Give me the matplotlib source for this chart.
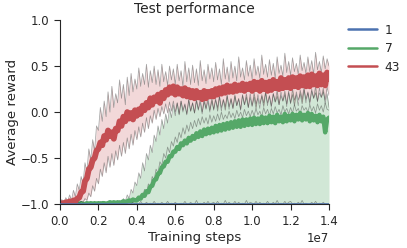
import matplotlib
matplotlib.use("Agg")
import matplotlib.pyplot as plt
import seaborn as sns
import numpy as np

# training steps, one reading every 0.01e7 (141 readings, 0 .. 1.4e7)
steps = np.arange(141) * 0.01e7

labels = ["1", "7", "43"]
colors = ["#4C72B0", "#55A868", "#C44E52"]

# ---------------- condition "1" ----------------
blue_mean = [
    -1.00, -1.00, -1.00, -1.00, -1.00, -1.00, -1.00, -1.00, -1.00, -1.00,
    -1.00, -1.00, -1.00, -1.00, -1.00, -1.00, -1.00, -1.00, -1.00, -1.00,
    -1.00, -1.00, -1.00, -1.00, -1.00, -1.00, -1.00, -1.00, -1.00, -1.00,
    -1.00, -1.00, -1.00, -1.00, -1.00, -1.00, -1.00, -1.00, -1.00, -1.00,
    -1.00, -1.00, -1.00, -1.00, -1.00, -1.00, -1.00, -1.00, -1.00, -1.00,
    -1.00, -1.00, -1.00, -1.00, -1.00, -1.00, -1.00, -1.00, -1.00, -1.00,
    -1.00, -1.00, -1.00, -1.00, -1.00, -1.00, -1.00, -1.00, -1.00, -1.00,
    -1.00, -1.00, -1.00, -1.00, -1.00, -1.00, -1.00, -1.00, -1.00, -1.00,
    -1.00, -1.00, -1.00, -1.00, -1.00, -1.00, -1.00, -1.00, -1.00, -1.00,
    -1.00, -1.00, -1.00, -1.00, -1.00, -1.00, -1.00, -1.00, -1.00, -1.00,
    -1.00, -1.00, -1.00, -1.00, -1.00, -1.00, -1.00, -1.00, -1.00, -1.00,
    -1.00, -1.00, -1.00, -1.00, -1.00, -1.00, -1.00, -1.00, -1.00, -1.00,
    -1.00, -1.00, -1.00, -1.00, -1.00, -1.00, -1.00, -1.00, -1.00, -1.00,
    -1.00, -1.00, -1.00, -1.00, -1.00, -1.00, -1.00, -1.00, -1.00, -1.00,
    -1.00]
blue_trace = [
    -1.00, -1.00, -1.00, -1.00, -1.00, -1.00, -1.00, -1.00, -1.00, -1.00,
    -1.00, -1.00, -1.00, -1.00, -1.00, -1.00, -1.00, -1.00, -1.00, -1.00,
    -1.00, -1.00, -1.00, -1.00, -1.00, -1.00, -1.00, -1.00, -1.00, -1.00,
    -1.00, -1.00, -1.00, -1.00, -1.00, -1.00, -1.00, -1.00, -0.98, -1.00,
    -0.99, -1.00, -0.97, -1.00, -1.00, -0.98, -1.00, -0.99, -1.00, -0.97,
    -1.00, -0.99, -1.00, -0.98, -1.00, -1.00, -0.97, -1.00, -0.99, -1.00,
    -0.98, -1.00, -1.00, -0.99, -1.00, -0.97, -1.00, -1.00, -0.98, -1.00,
    -1.00, -0.96, -1.00, -0.99, -1.00, -0.98, -1.00, -0.97, -1.00, -0.99,
    -0.98, -1.00, -0.97, -1.00, -0.99, -1.00, -0.96, -1.00, -0.98, -1.00,
    -1.00, -0.97, -1.00, -0.98, -1.00, -0.99, -1.00, -0.96, -1.00, -0.98,
    -0.99, -1.00, -0.97, -1.00, -0.98, -1.00, -0.99, -1.00, -0.97, -1.00,
    -1.00, -0.98, -1.00, -0.96, -1.00, -0.99, -1.00, -0.97, -1.00, -0.98,
    -0.97, -1.00, -0.99, -1.00, -0.98, -1.00, -0.96, -1.00, -0.99, -1.00,
    -1.00, -0.98, -1.00, -0.97, -1.00, -0.99, -1.00, -0.98, -1.00, -1.00,
    -1.00]

# ---------------- condition "7" ----------------
green_mean = [
    -1.00, -1.00, -1.00, -0.99, -1.00, -1.00, -0.99, -1.00, -1.00, -0.99,
    -1.00, -0.99, -1.00, -1.00, -0.99, -1.00, -0.99, -1.00, -0.99, -1.00,
    -0.99, -1.00, -0.99, -0.99, -1.00, -0.99, -0.98, -0.99, -0.98, -0.99,
    -0.98, -0.99, -0.98, -0.97, -0.98, -0.97, -0.96, -0.97, -0.95, -0.96,
    -0.96, -0.93, -0.94, -0.90, -0.91, -0.86, -0.87, -0.81, -0.80, -0.74,
    -0.73, -0.67, -0.66, -0.60, -0.59, -0.54, -0.54, -0.48, -0.48, -0.43,
    -0.43, -0.38, -0.40, -0.34, -0.36, -0.31, -0.34, -0.28, -0.31, -0.26,
    -0.29, -0.23, -0.27, -0.21, -0.26, -0.19, -0.24, -0.18, -0.23, -0.17,
    -0.22, -0.15, -0.21, -0.14, -0.20, -0.13, -0.19, -0.12, -0.18, -0.11,
    -0.17, -0.10, -0.16, -0.09, -0.16, -0.08, -0.15, -0.08, -0.14, -0.07,
    -0.14, -0.06, -0.13, -0.07, -0.13, -0.05, -0.12, -0.06, -0.12, -0.04,
    -0.11, -0.05, -0.12, -0.03, -0.10, -0.05, -0.11, -0.02, -0.10, -0.04,
    -0.09, -0.02, -0.10, -0.03, -0.08, -0.01, -0.09, -0.03, -0.08, -0.01,
    -0.10, -0.02, -0.09, -0.04, -0.11, -0.03, -0.10, -0.05, -0.22, -0.08,
    -0.06]
green_upper = [
    -1.00, -1.00, -1.00, -0.99, -1.00, -0.98, -1.00, -0.99, -1.00, -0.98,
    -1.00, -0.97, -0.99, -1.00, -0.98, -1.00, -0.97, -0.99, -1.00, -0.98,
    -0.99, -0.97, -1.00, -0.98, -0.99, -0.97, -1.00, -0.98, -0.99, -0.97,
    -0.98, -0.96, -0.99, -0.94, -0.97, -0.90, -0.94, -0.84, -0.88, -0.76,
    -0.80, -0.66, -0.72, -0.55, -0.64, -0.45, -0.52, -0.36, -0.44, -0.25,
    -0.32, -0.15, -0.25, -0.08, -0.18, -0.02, -0.12, 0.04, -0.06, 0.08,
    -0.04, 0.10, -0.02, 0.12, 0.00, 0.08, -0.03, 0.13, 0.01, 0.10,
    -0.01, 0.14, 0.02, 0.11, -0.02, 0.15, 0.03, 0.12, 0.00, 0.16,
    0.02, 0.13, 0.05, 0.17, 0.01, 0.14, 0.06, 0.18, 0.03, 0.15,
    0.04, 0.19, 0.07, 0.14, 0.02, 0.18, 0.08, 0.20, 0.05, 0.16,
    0.06, 0.21, 0.09, 0.15, 0.04, 0.19, 0.10, 0.22, 0.07, 0.17,
    0.05, 0.20, 0.11, 0.24, 0.08, 0.18, 0.12, 0.23, 0.06, 0.21,
    0.09, 0.25, 0.13, 0.19, 0.07, 0.24, 0.14, 0.27, 0.10, 0.22,
    0.08, 0.23, 0.15, 0.28, 0.11, 0.21, 0.16, 0.26, 0.09, 0.20,
    0.05]
green_mid = [
    -1.00, -1.00, -1.00, -1.00, -1.00, -0.99, -1.00, -1.00, -0.98, -1.00,
    -1.00, -0.99, -1.00, -1.00, -0.98, -1.00, -1.00, -0.99, -1.00, -1.00,
    -0.98, -1.00, -1.00, -0.99, -1.00, -0.98, -1.00, -1.00, -0.99, -1.00,
    -1.00, -0.98, -1.00, -0.99, -0.98, -0.99, -0.97, -0.98, -0.95, -0.96,
    -0.93, -0.95, -0.90, -0.92, -0.84, -0.88, -0.78, -0.82, -0.70, -0.74,
    -0.62, -0.66, -0.54, -0.58, -0.45, -0.50, -0.38, -0.44, -0.32, -0.37,
    -0.27, -0.33, -0.22, -0.28, -0.17, -0.24, -0.14, -0.21, -0.11, -0.18,
    -0.09, -0.16, -0.07, -0.14, -0.05, -0.12, -0.06, -0.13, -0.03, -0.11,
    -0.04, -0.10, -0.02, -0.09, 0.00, -0.08, -0.03, -0.07, 0.01, -0.06,
    -0.01, -0.07, 0.02, -0.05, 0.00, -0.06, 0.03, -0.04, 0.01, -0.05,
    0.02, -0.04, 0.04, -0.03, 0.01, -0.05, 0.05, -0.02, 0.03, -0.04,
    0.04, -0.02, 0.06, -0.01, 0.03, -0.03, 0.07, 0.00, 0.04, -0.02,
    0.05, -0.01, 0.08, 0.01, 0.04, -0.02, 0.07, 0.02, 0.05, 0.00,
    0.08, 0.01, 0.06, -0.01, 0.09, 0.02, 0.07, 0.00, 0.10, 0.03,
    0.02]
green_lower = [
    -1.00, -1.00, -0.98, -1.00, -1.00, -0.99, -1.00, -0.98, -1.00, -1.00,
    -0.99, -1.00, -0.98, -1.00, -1.00, -0.98, -1.00, -0.99, -1.00, -0.98,
    -1.00, -0.99, -1.00, -0.98, -1.00, -1.00, -0.98, -1.00, -0.99, -1.00,
    -0.98, -1.00, -1.00, -0.99, -1.00, -1.00, -1.00, -1.00, -1.00, -1.00,
    -1.00, -1.00, -1.00, -1.00, -1.00, -1.00, -1.00, -1.00, -1.00, -1.00,
    -1.00, -1.00, -1.00, -1.00, -1.00, -1.00, -1.00, -1.00, -1.00, -1.00,
    -1.00, -1.00, -1.00, -1.00, -1.00, -1.00, -1.00, -1.00, -1.00, -1.00,
    -1.00, -1.00, -1.00, -1.00, -1.00, -1.00, -1.00, -1.00, -1.00, -1.00,
    -1.00, -1.00, -1.00, -1.00, -1.00, -1.00, -1.00, -1.00, -1.00, -1.00,
    -1.00, -1.00, -1.00, -1.00, -1.00, -1.00, -1.00, -1.00, -1.00, -1.00,
    -1.00, -1.00, -1.00, -1.00, -1.00, -1.00, -1.00, -1.00, -1.00, -1.00,
    -1.00, -1.00, -1.00, -1.00, -1.00, -1.00, -1.00, -1.00, -1.00, -1.00,
    -1.00, -1.00, -1.00, -1.00, -1.00, -1.00, -1.00, -1.00, -1.00, -1.00,
    -1.00, -1.00, -1.00, -1.00, -1.00, -1.00, -1.00, -1.00, -1.00, -1.00,
    -1.00]

# ---------------- condition "43" ----------------
red_mean = [
    -1.00, -0.99, -1.00, -0.98, -0.99, -0.97, -0.99, -0.96, -0.97, -0.94,
    -0.93, -0.87, -0.86, -0.75, -0.72, -0.62, -0.60, -0.52, -0.50, -0.42,
    -0.40, -0.33, -0.36, -0.26, -0.30, -0.20, -0.26, -0.22, -0.29, -0.18,
    -0.20, -0.10, -0.15, -0.05, -0.10, 0.00, -0.07, -0.01, -0.08, 0.02,
    -0.04, 0.03, -0.02, 0.07, 0.02, 0.10, 0.05, 0.15, 0.08, 0.16,
    0.12, 0.19, 0.10, 0.21, 0.15, 0.24, 0.19, 0.27, 0.21, 0.28,
    0.19, 0.27, 0.20, 0.25, 0.18, 0.26, 0.17, 0.24, 0.16, 0.23,
    0.15, 0.23, 0.16, 0.21, 0.14, 0.23, 0.15, 0.22, 0.17, 0.23,
    0.17, 0.25, 0.19, 0.26, 0.20, 0.27, 0.21, 0.29, 0.22, 0.28,
    0.22, 0.30, 0.23, 0.29, 0.24, 0.31, 0.23, 0.30, 0.25, 0.31,
    0.23, 0.33, 0.25, 0.32, 0.23, 0.34, 0.25, 0.32, 0.23, 0.33,
    0.24, 0.35, 0.26, 0.33, 0.25, 0.37, 0.26, 0.35, 0.27, 0.37,
    0.26, 0.38, 0.28, 0.37, 0.27, 0.39, 0.29, 0.38, 0.28, 0.40,
    0.28, 0.41, 0.30, 0.39, 0.29, 0.42, 0.30, 0.40, 0.29, 0.43,
    0.36]
red_upper = [
    -0.98, -0.95, -1.00, -0.93, -0.97, -0.90, -0.96, -0.85, -0.92, -0.78,
    -0.85, -0.70, -0.78, -0.55, -0.65, -0.40, -0.52, -0.30, -0.42, -0.15,
    -0.20, 0.05, -0.10, 0.12, -0.05, 0.22, 0.00, 0.28, 0.05, 0.20,
    0.10, 0.35, 0.15, 0.30, 0.08, 0.38, 0.18, 0.42, 0.22, 0.36,
    0.25, 0.48, 0.28, 0.42, 0.30, 0.52, 0.27, 0.45, 0.32, 0.50,
    0.30, 0.46, 0.28, 0.52, 0.33, 0.44, 0.29, 0.50, 0.35, 0.47,
    0.30, 0.52, 0.34, 0.45, 0.28, 0.55, 0.33, 0.48, 0.30, 0.51,
    0.32, 0.47, 0.29, 0.56, 0.34, 0.46, 0.31, 0.52, 0.36, 0.48,
    0.33, 0.54, 0.35, 0.47, 0.30, 0.58, 0.36, 0.49, 0.33, 0.55,
    0.37, 0.50, 0.34, 0.60, 0.38, 0.48, 0.35, 0.56, 0.39, 0.51,
    0.36, 0.58, 0.40, 0.50, 0.37, 0.62, 0.41, 0.52, 0.38, 0.57,
    0.40, 0.53, 0.37, 0.60, 0.42, 0.51, 0.39, 0.64, 0.43, 0.55,
    0.40, 0.59, 0.44, 0.53, 0.41, 0.62, 0.45, 0.54, 0.42, 0.60,
    0.44, 0.56, 0.41, 0.65, 0.46, 0.55, 0.43, 0.61, 0.47, 0.58,
    0.50]
red_lower = [
    -1.00, -1.00, -1.00, -1.00, -0.99, -1.00, -1.00, -0.99, -1.00, -0.98,
    -0.99, -0.97, -0.98, -0.94, -0.96, -0.88, -0.92, -0.80, -0.86, -0.72,
    -0.78, -0.62, -0.70, -0.55, -0.66, -0.48, -0.60, -0.45, -0.58, -0.42,
    -0.52, -0.36, -0.48, -0.33, -0.45, -0.28, -0.40, -0.24, -0.36, -0.20,
    -0.30, -0.16, -0.27, -0.12, -0.22, -0.06, -0.18, -0.04, -0.12, 0.02,
    -0.08, 0.04, -0.05, 0.06, -0.02, 0.09, -0.01, 0.11, 0.01, 0.12,
    0.00, 0.10, -0.03, 0.12, 0.02, 0.09, -0.02, 0.14, 0.01, 0.10,
    -0.01, 0.12, 0.03, 0.15, 0.00, 0.11, 0.04, 0.16, 0.02, 0.12,
    0.03, 0.15, 0.01, 0.17, 0.05, 0.13, 0.02, 0.18, 0.06, 0.14,
    0.04, 0.17, 0.07, 0.15, 0.03, 0.19, 0.08, 0.16, 0.05, 0.20,
    0.07, 0.16, 0.04, 0.19, 0.09, 0.17, 0.06, 0.21, 0.10, 0.18,
    0.07, 0.20, 0.11, 0.17, 0.08, 0.22, 0.12, 0.19, 0.09, 0.23,
    0.10, 0.19, 0.07, 0.22, 0.13, 0.20, 0.09, 0.24, 0.14, 0.21,
    0.11, 0.25, 0.15, 0.21, 0.12, 0.26, 0.16, 0.22, 0.13, 0.27,
    0.18]

sns.set_style("ticks")
plt.rcParams['font.family'] = ['DejaVu Sans']
plt.rcParams['text.color'] = '.15'
plt.rcParams['axes.labelcolor'] = '.15'
plt.rcParams['axes.edgecolor'] = '.15'
plt.rcParams['xtick.color'] = '.15'
plt.rcParams['ytick.color'] = '.15'

fig = plt.figure(figsize=(4.07, 2.48), dpi=100)
ax = fig.add_axes([0.1474, 0.177, 0.661, 0.742])

trace_kw = dict(color="#2a2a2a", alpha=0.42, lw=0.55)

# condition 1 (kept on top at the floor, like the reference)
ax.plot(steps, blue_trace, zorder=4, **trace_kw)
ax.plot(steps, blue_mean, color=colors[0], lw=1.8, label=labels[0], zorder=5)

# condition 7
ax.fill_between(steps, green_lower, green_upper, color=colors[1], alpha=0.27, lw=0)
for tr in (green_upper, green_mid, green_lower):
    ax.plot(steps, tr, **trace_kw)
ax.plot(steps, green_mean, color=colors[1], lw=3.2, label=labels[1])

# condition 43
ax.fill_between(steps, red_lower, red_upper, color=colors[2], alpha=0.22, lw=0)
for tr in (red_upper, red_lower):
    ax.plot(steps, tr, **trace_kw)
ax.plot(steps, red_mean, color=colors[2], lw=4.2, label=labels[2])

ax.set_xlim(0, 1.4e7)
ax.set_ylim(-1.0, 1.0)
ax.set_xticks(np.arange(0, 1.41e7, 0.2e7))
ax.set_yticks([-1.0, -0.5, 0.0, 0.5, 1.0])
ax.tick_params(labelsize=8.5, length=4.5, width=0.8)
ax.xaxis.get_offset_text().set_fontsize(8.5)
ax.set_xlabel("Training steps", fontsize=9.6, labelpad=2)
ax.set_ylabel("Average reward", fontsize=9.6, labelpad=1)
ax.set_title("Test performance", fontsize=10, pad=5)
sns.despine(ax=ax)

leg = ax.legend(loc="upper left", bbox_to_anchor=(1.03, 1.04), frameon=False,
                fontsize=8.8, handlelength=2.4, handletextpad=0.6,
                labelspacing=0.45)
for h in leg.legend_handles:
    h.set_linewidth(1.8)

plt.savefig("out.png", dpi=100)
